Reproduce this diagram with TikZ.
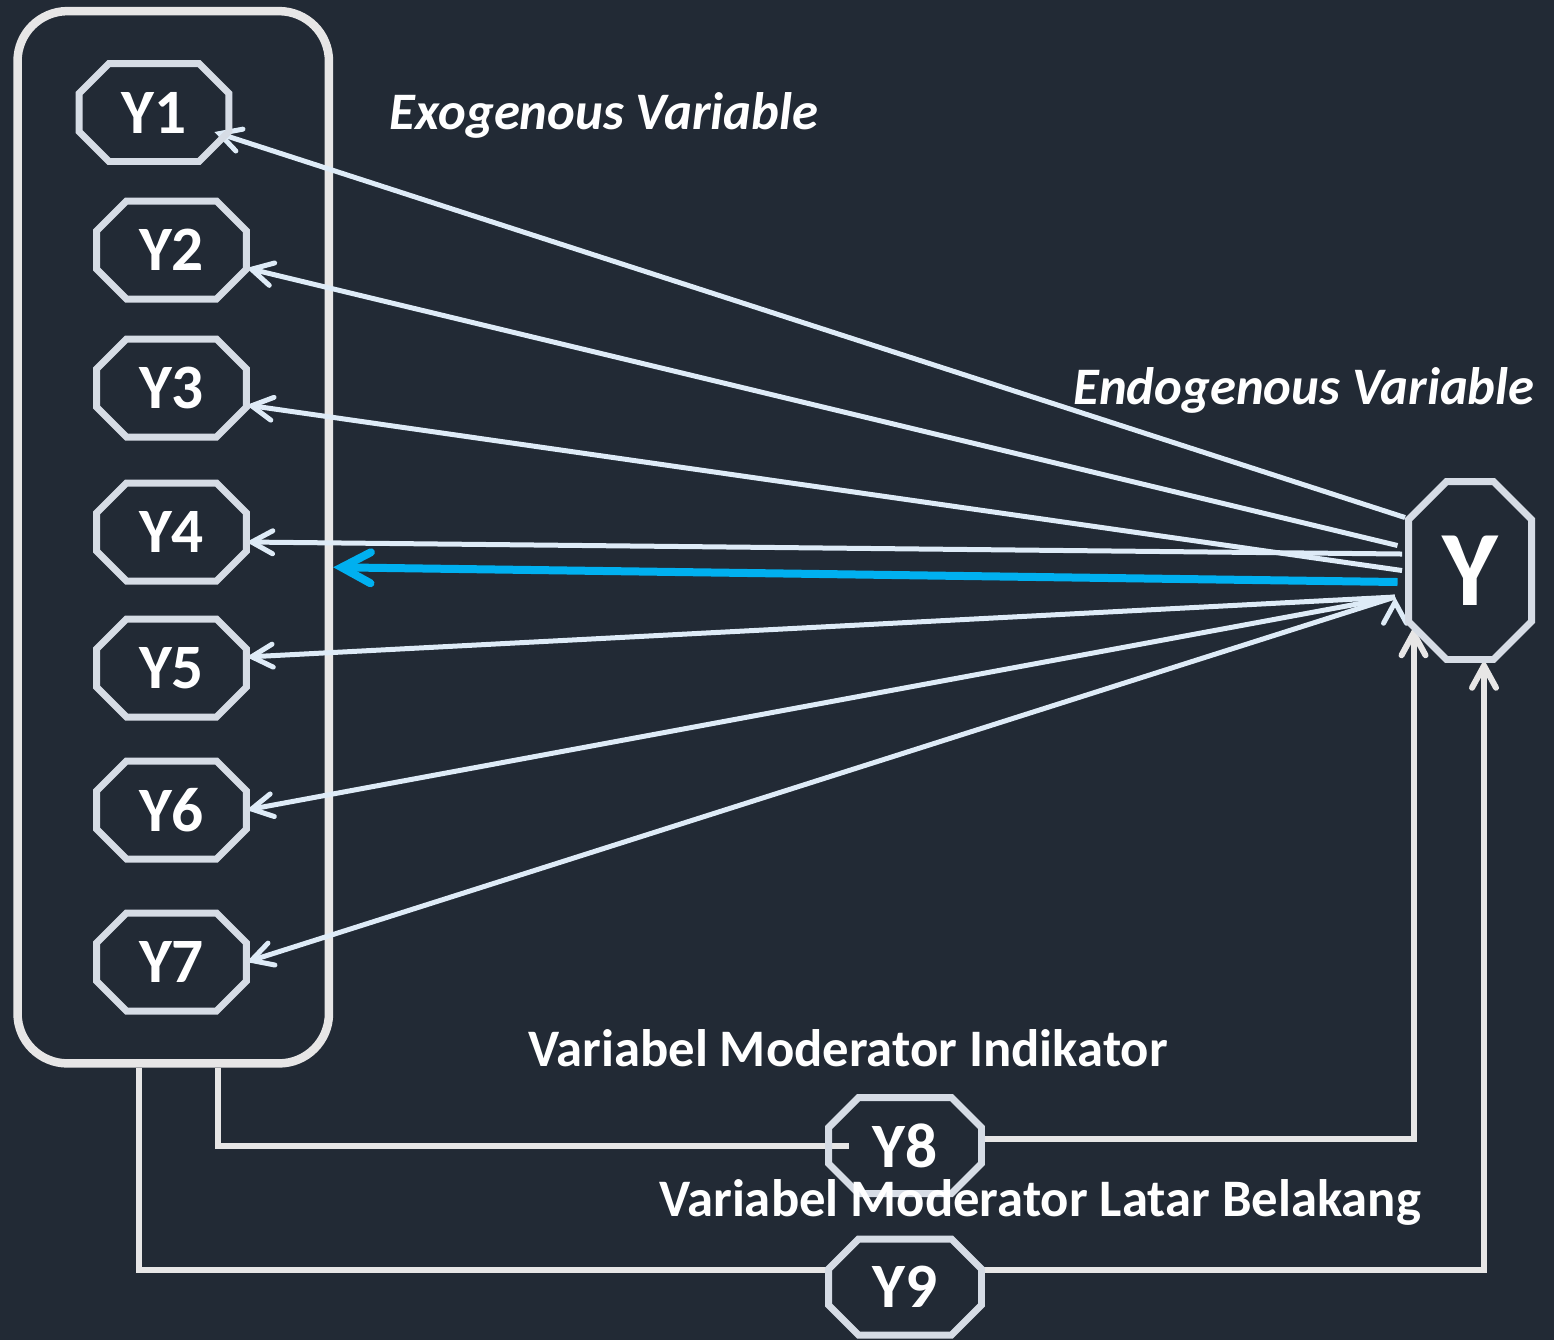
\documentclass[tikz,border=0pt]{standalone}
\usepackage{fontspec}
\setmainfont{Carlito}
\usetikzlibrary{arrows.meta}
\definecolor{bgdark}{HTML}{222A35}
\definecolor{octgray}{HTML}{D6DCE5}
\definecolor{pathwhite}{HTML}{DEEBF7}
\definecolor{linegray}{HTML}{E7E6E6}
\definecolor{hlblue}{HTML}{00B0F0}
\tikzstyle{iv}=[shape=rectangle,
                minimum width=3cm,
                minimum height=1.96cm,
                inner sep=0pt, outer sep=0pt,
                text=white,
                font=\fontsize{36}{40}\selectfont\bfseries]
\tikzstyle{dv}=[iv,
                minimum width=2.46cm,
                minimum height=3.56cm,
                font=\fontsize{61}{66}\selectfont\bfseries]
\tikzstyle{grp}=[shape=rectangle,
                draw=linegray,
                line width=0.17cm,
                rounded corners=1cm,
                minimum width=6.23cm,
                minimum height=21.05cm]
\tikzstyle{lbl}=[text=white, inner sep=0pt,
                font=\fontsize{30}{34}\selectfont\bfseries\itshape]
\tikzstyle{mlbl}=[text=white, inner sep=0pt,
                font=\fontsize{30}{34}\selectfont\bfseries]
\tikzstyle{octl}=[draw=octgray, line width=0.14cm]
\tikzstyle{ln}=[draw=pathwhite, line width=0.1cm,
                -{Straight Barb[length=0.42cm,width=0.46cm,line cap=round]}]
\tikzstyle{hl}=[draw=hlblue, line width=0.16cm,
                -{Straight Barb[length=0.58cm,width=0.62cm,line cap=round]}]
\tikzstyle{mv}=[draw=linegray, line width=0.12cm]
\tikzstyle{mva}=[mv, -{Straight Barb[length=0.44cm,width=0.48cm,line cap=round]}]
% octagon outline round a node: name, cut
\newcommand{\octa}[2]{%
  \draw[octl] ([xshift=#2cm]#1.north west) -- ([xshift=-#2cm]#1.north east)
    -- ([yshift=-#2cm]#1.north east) -- ([yshift=#2cm]#1.south east)
    -- ([xshift=-#2cm]#1.south east) -- ([xshift=#2cm]#1.south west)
    -- ([yshift=#2cm]#1.south west) -- ([yshift=-#2cm]#1.north west) -- cycle;}

\begin{document}
\begin{tikzpicture}[x=0.02cm,y=-0.02cm]

\fill[bgdark] (0,0) rectangle (1554,1340);
\useasboundingbox (0,0) rectangle (1554,1340);

% exogenous group
\node[grp] (exo) at (173.25,537.25) {};

% indicators
\node[iv] (y1) at (154,112.5)  {Y1};
\node[iv] (y2) at (171.5,250)  {Y2};
\node[iv] (y3) at (171.5,388)  {Y3};
\node[iv] (y4) at (171.5,532)  {Y4};
\node[iv] (y5) at (171.5,668)  {Y5};
\node[iv] (y6) at (171.5,810)  {Y6};
\node[iv] (y7) at (171.5,962)  {Y7};

% endogenous variable
\node[dv] (yend) at (1470,570.5) {Y};

% moderators
\node[iv, minimum width=3.06cm, minimum height=1.92cm] (y8) at (905,1145.5) {Y8};
\node[iv, minimum width=3.06cm, minimum height=1.92cm] (y9) at (905,1287)   {Y9};

% labels
\node[lbl]  (exolbl) at (604,115)   {Exogenous Variable};
\node[lbl]  (endlbl) at (1304,390)  {Endogenous Variable};

% paths from Y to the indicators
\path[ln] ([xshift=-0.07cm,yshift=1.06cm]yend.west) edge ([xshift=-0.29cm,yshift=-0.39cm]y1.east)
          ([xshift=-0.22cm,yshift=0.5cm]yend.west)  edge ([yshift=-0.36cm]y2.east)
          ([xshift=-0.13cm]yend.west)               edge ([yshift=-0.34cm]y3.east)
          ([xshift=-0.13cm,yshift=0.33cm]yend.west) edge ([yshift=-0.2cm]y4.east)
          ([xshift=-0.27cm,yshift=-0.53cm]yend.west) edge ([yshift=0.22cm]y5.east)
          ([xshift=-0.27cm,yshift=-0.53cm]yend.west) edge (y6.east)
          ([xshift=-0.27cm,yshift=-0.53cm]yend.west) edge (y7.east);

% path from Y to the group
\draw[hl] ([xshift=-0.22cm,yshift=-0.23cm]yend.west) -- ([yshift=-0.6cm]exo.east);

% moderator paths
\draw[mv] ([xshift=0.9cm]exo.south) |- ([xshift=0.4cm]y8.west);
\draw[mv] ([xshift=-0.68cm]exo.south) |- ([yshift=0.34cm]y9.west);
\draw[mva] ([yshift=0.13cm]y8.east) -| ([xshift=0.1cm,yshift=0.65cm]yend.south west);
\draw[mva] ([yshift=0.34cm]y9.east) -| ([xshift=0.28cm]yend.south);

% octagon outlines
\foreach \n in {y1,y2,y3,y4,y5,y6,y7,y8,y9} {\octa{\n}{0.6}}
\octa{yend}{0.76}

% moderator labels
\node[mlbl] (indlbl) at (848,1048)  {Variabel Moderator Indikator};
\node[mlbl] (latlbl) at (1040,1202) {Variabel Moderator Latar Belakang};

\end{tikzpicture}
\end{document}
